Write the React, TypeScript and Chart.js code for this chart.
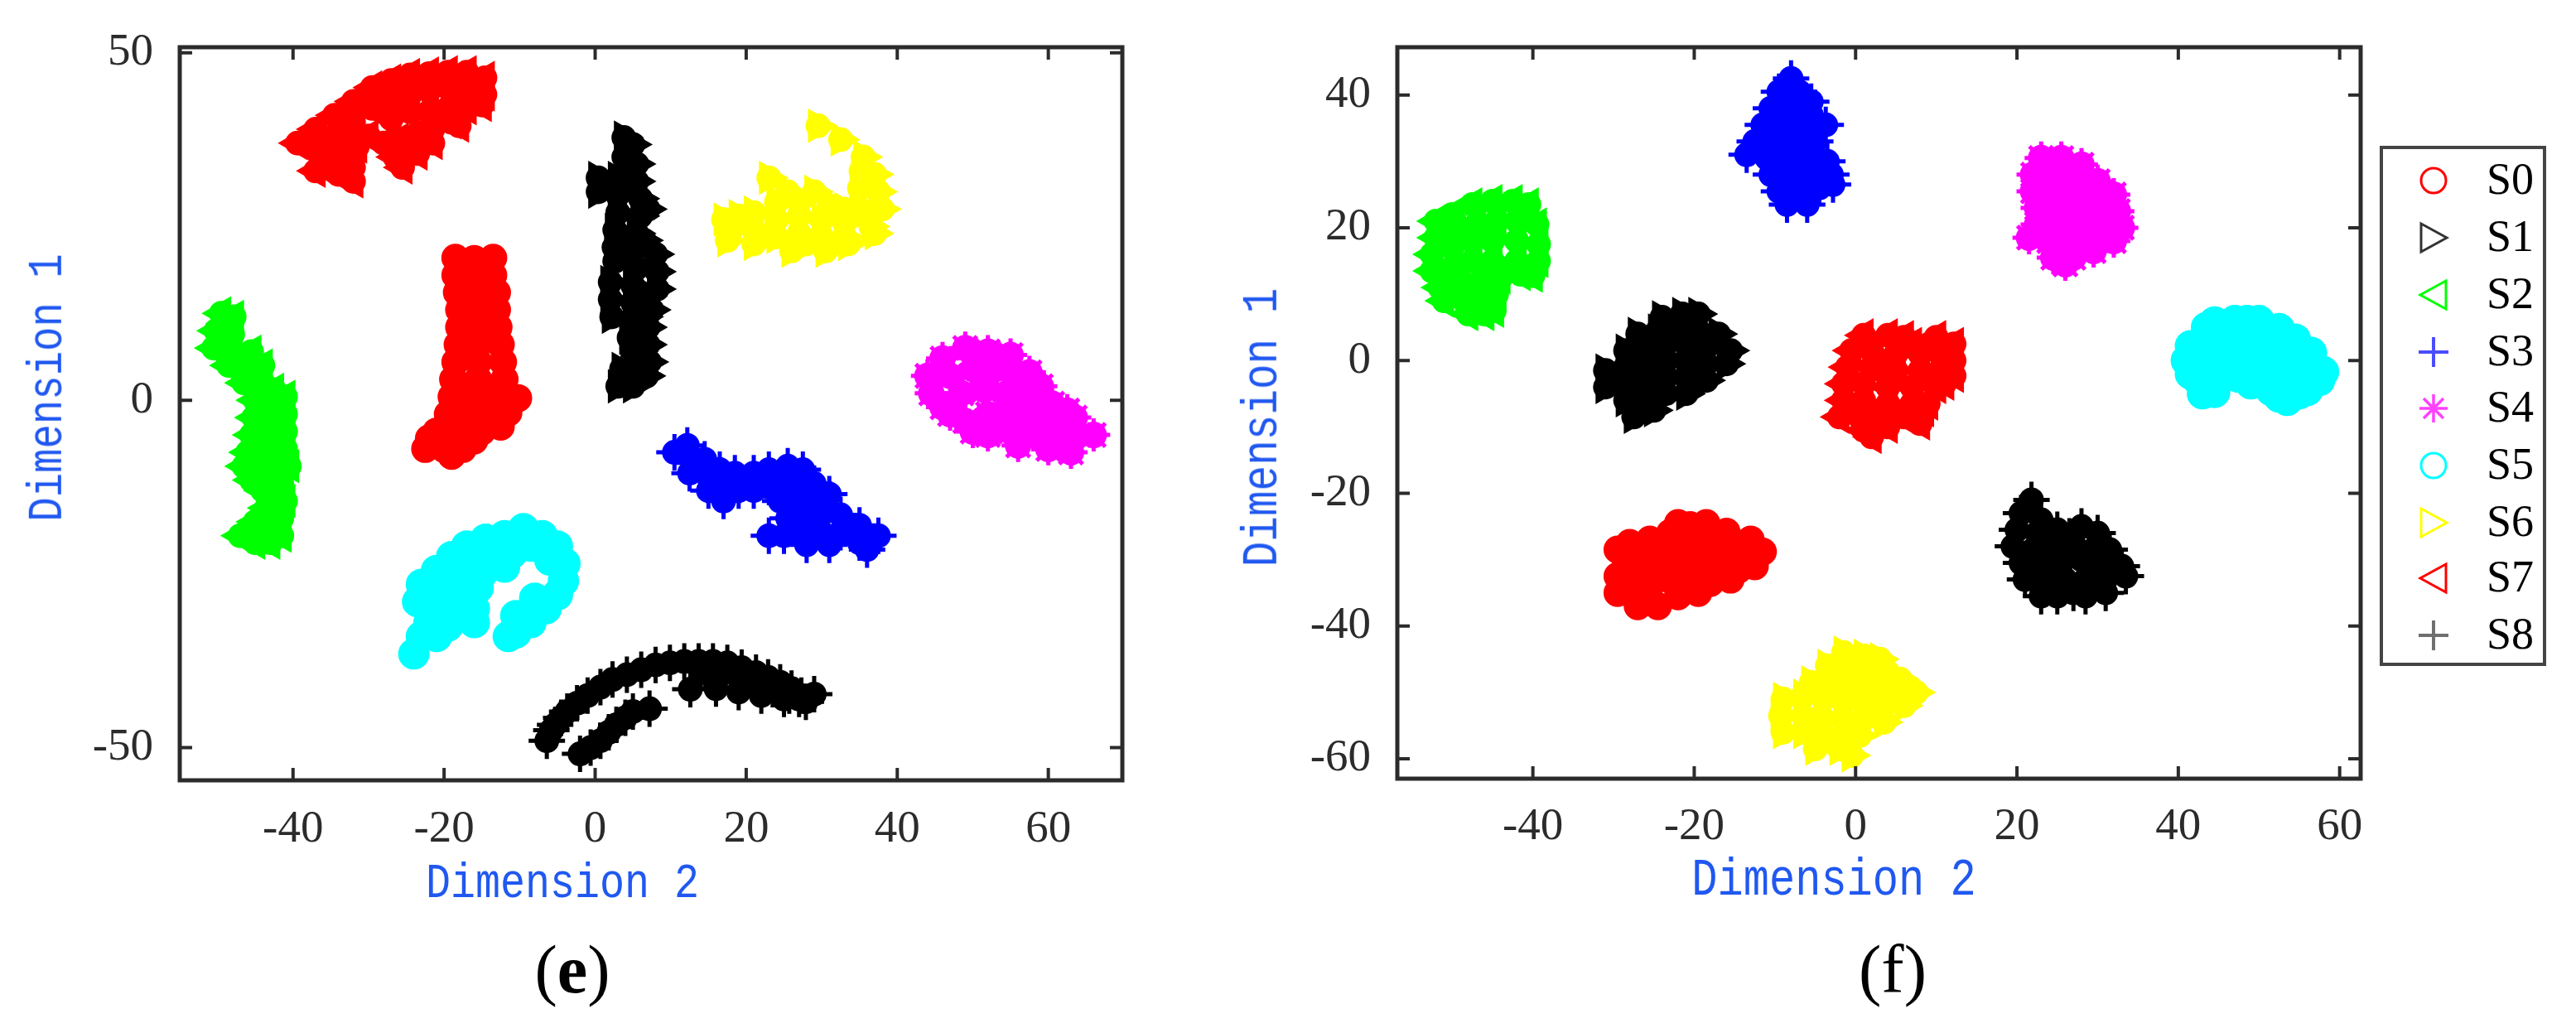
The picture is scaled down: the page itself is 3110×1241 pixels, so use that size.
import { useEffect, useRef } from "react";
import { Chart, registerables } from "chart.js";

Chart.register(...registerables);

type Pt = [number, number];

const seriesNames = ["S0", "S1", "S2", "S3", "S4", "S5", "S6", "S7", "S8"];
const seriesColors = ["#ff0000", "#000000", "#00ff00", "#0000ff", "#ff00ff", "#00ffff", "#ffff00", "#ff0000", "#000000"];

const leftXTicks = [-40, -20, 0, 20, 40, 60];
const leftYTicks = [-50, 0, 50];
const rightXTicks = [-40, -20, 0, 20, 40, 60];
const rightYTicks = [-60, -40, -20, 0, 20, 40];

// panel (e)
const leftS0: Pt[] = [[-18.5,20.5],[-16,20.3],[-13.5,20.5],[-18.5,18],[-16,18],[-13.5,18],[-18.3,15.5],[-15.8,15.5],[-13,15.5],[-18,13],[-15.5,13],[-13,13],[-18,10.5],[-15.5,10.5],[-12.8,10.5],[-18.2,8],[-15.5,8],[-12.5,8],[-18.5,5.5],[-15.5,5.5],[-12.2,5.5],[-18.8,3],[-15.5,3],[-12,3],[-19,0.5],[-16,0.5],[-13,0.5],[-10.2,0.3],[-19.5,-2],[-16.5,-2],[-13.5,-2],[-11.5,-1.8],[-21,-4.5],[-18,-4.5],[-15,-4.5],[-22.5,-7],[-20,-7],[-17.5,-7],[-12.5,-3.8],[-22,-5.5],[-19,-8],[-16,-5.8]];
const leftS1: Pt[] = [[3.8,37.8],[5,36.8],[3.8,35],[5.5,34],[0.4,32],[3,32],[5.5,31.5],[0.4,30],[3,29.5],[6,29],[3,27],[6,26.5],[2.6,24.5],[5.5,24],[2.5,22],[5,21.5],[8,21],[2.6,20],[5.5,19],[8.2,18.5],[2,17],[5,16.5],[8.2,16],[2,14.5],[5,14],[7.5,13],[2.2,12],[5,11.5],[7,10.5],[4.5,9],[7,8],[5,6.5],[7.2,5.5],[3.5,4.5],[5.5,3.5],[3,2],[5,2],[7,27.5],[6.5,23],[7,15],[6.5,12],[6.8,3.5]];
const leftS2: Pt[] = [[-49.5,12.5],[-47.8,12],[-50.2,10],[-48,9.5],[-50.5,7.5],[-48,7],[-45.5,7],[-48.5,5],[-46,4.5],[-46.5,2.5],[-44,2.5],[-41,0.5],[-45,0],[-43,-0.5],[-41,-2],[-45.2,-2.5],[-43,-3],[-41,-4.5],[-45.5,-5],[-43,-5.5],[-41,-7],[-46,-7.5],[-43.5,-8],[-40.5,-9.5],[-46.5,-9.5],[-44,-10.5],[-41.5,-12],[-44,-13],[-41,-14.5],[-43.5,-15.5],[-41.5,-17],[-45,-17.5],[-43,-18.5],[-47,-19.5],[-45,-20.5],[-43,-20.5],[-49,11],[-44,5],[-42.5,1.5],[-41.5,-9.5],[-44,-17],[-41.5,-19.5],[-45.5,-11.5]];
const leftS3: Pt[] = [[10.5,-7.5],[12.2,-6.5],[13,-9],[14.5,-8.5],[12.5,-10.5],[15,-11],[16.5,-10],[15,-13],[17,-12.5],[18.5,-10.5],[19,-13],[21,-10.5],[21,-13],[23,-10],[23,-12.5],[25.5,-9.5],[25,-12],[27.5,-10],[27.5,-12.5],[24.5,-14.5],[26.5,-15],[29,-12],[29,-15],[31,-13.5],[25.5,-17],[28,-17],[30.5,-16],[32.5,-16.5],[25,-19.5],[27.5,-19.5],[30,-19],[32.5,-19],[35,-18],[35,-20.5],[37.5,-19.5],[36,-21.5],[31,-20.8],[28,-20.8],[23,-19.5],[17,-14.5]];
const leftS4: Pt[] = [[44,3.5],[46,6],[49,7.5],[52,7],[55,6.5],[57.5,4],[44.5,1],[47,3.5],[50,4.5],[53,4.5],[56,3],[59,2],[46,-1],[48.5,1],[51.5,1.5],[54.5,1],[57.5,0.5],[60.5,-0.5],[49,-3],[52,-2],[55,-1.5],[58,-2],[61,-3],[63.5,-2.5],[52,-5],[55,-4.5],[58,-5],[61,-5.5],[64,-5],[66,-5],[60,-7],[63,-7.5],[47,-2],[50,-4.5],[56,-6.5],[57.5,-3.5],[62.5,-1.5]];
const leftS5: Pt[] = [[-9.5,-18.5],[-12,-19.5],[-14.5,-20],[-17,-21],[-7,-19.5],[-5,-21],[-4,-23.5],[-4.2,-26],[-6,-23],[-8.5,-21],[-11,-22],[-13.5,-22.5],[-16,-23.5],[-19,-22.5],[-21,-24.5],[-18,-25.5],[-15,-25],[-12,-24],[-23,-26.5],[-20.5,-27],[-17.5,-28],[-15.5,-27],[-23.5,-29],[-21,-29.5],[-18.5,-30.5],[-16,-30],[-22,-32],[-19.5,-32.5],[-16,-32],[-23,-34],[-21,-34],[-24,-36.5],[-5,-28],[-6.5,-30],[-8.5,-32],[-10.5,-33.5],[-11.5,-34],[-8,-28.5],[-10.5,-31]];
const leftS6: Pt[] = [[29.5,39.5],[32.5,37.5],[35.5,35],[37,32.5],[37.5,30],[38,27.5],[36.5,25],[35,27.5],[35,30.5],[35.2,33],[23,32],[25.5,30],[24,28.5],[27,26.5],[24,26],[21,24.5],[18,24.5],[17,26],[27,24],[30,26],[33,25.5],[30,23.5],[33,23.5],[24,23.5],[28,22.5],[31,28],[27,28.5],[19,26.5],[21,27],[29,30],[33,27.5],[21,22.5],[17.5,23],[33.5,22.5],[37,24],[30.5,21.5],[26,21.5]];
const leftS7: Pt[] = [[-39.4,37],[-37,39],[-34.5,41],[-32,43],[-29.5,45],[-27,46],[-24.5,46.8],[-22,47],[-19.5,47.2],[-17,47.2],[-14.6,46.4],[-37,36],[-34.5,38],[-32,40],[-29.5,42],[-27,43.5],[-24.5,44],[-22,44.5],[-19.5,45],[-17,44.5],[-14.6,44],[-36,33.5],[-33,35.5],[-30,38],[-27,40.5],[-24.5,41.5],[-22,41.5],[-19.5,42],[-17,42],[-37,33],[-34,32.5],[-32,33.5],[-26.5,35],[-24,38],[-21.5,39],[-19,40],[-28,37],[-25.5,33.5],[-23.5,35.5],[-21.5,37],[-26,37.5],[-31.5,36.5],[-33,38],[-35,35.5],[-32,31.5],[-15,42.5],[-18,39.5]];
const leftS8: Pt[] = [[-6.4,-49],[-5.8,-47.5],[-5.3,-46.7],[-4.5,-45.7],[-3.7,-44.8],[-2.4,-43.6],[-1,-42.5],[0.7,-41.3],[2.3,-40.2],[4.2,-39.5],[6.1,-38.8],[8,-38.1],[9.9,-37.8],[11.8,-37.6],[13.7,-37.6],[15.6,-37.6],[17.5,-37.8],[19.4,-38.5],[21.3,-39.2],[22.9,-39.9],[24.5,-40.6],[26,-41.5],[27.3,-42.5],[29,-42.3],[-2,-50.9],[-0.6,-50],[0.7,-49],[1.8,-47.8],[2.8,-46.7],[4,-45.7],[5,-44.8],[7.2,-44.4],[12.6,-41.6],[15.9,-40.6],[19.2,-40.2],[23.5,-41.6],[25.7,-42.5],[27.9,-43.4],[14,-39],[17,-39],[20,-40],[22,-41],[16,-41.5],[19,-42],[22,-42.5],[25,-43],[27,-43]];

// panel (f)
const rightS0: Pt[] = [[-28,-27.5],[-25.5,-27],[-23,-26],[-20.5,-24.8],[-18,-26.5],[-15.5,-27],[-13,-27],[-11.5,-28.8],[-28.5,-30],[-26,-29.5],[-23.5,-28.5],[-21,-28],[-18.5,-29],[-16,-29.5],[-13.5,-29.5],[-29.5,-32.5],[-27,-32],[-24.5,-31],[-22,-30.5],[-19.5,-31.5],[-17,-32],[-14.5,-31.5],[-28,-35],[-25.5,-34],[-23,-33],[-20.5,-33.5],[-18,-33.5],[-27,-37],[-24.5,-37],[-22,-35.5],[-18.5,-24.5],[-16,-25.8],[-29.5,-28.5],[-29.5,-35],[-15.5,-33],[-12.5,-31],[-19.5,-35],[-22,-24.5]];
const rightS1: Pt[] = [[-24,6.5],[-21.5,7],[-19.5,7],[-27,4],[-24.5,4.5],[-22,5],[-19.5,4.5],[-17,4],[-28.5,1.5],[-26,2],[-23.5,2.5],[-21,2.5],[-18.5,2],[-15.5,1.5],[-31,-1.5],[-28.5,-1],[-26,-0.5],[-23.5,0],[-21,0],[-18.5,-0.5],[-16,-0.5],[-31,-4],[-28.5,-3.5],[-26,-3],[-23.5,-2.5],[-21,-2.5],[-18.5,-3],[-28.5,-6],[-26,-5.5],[-23.5,-5],[-21,-5],[-27.5,-8.5],[-25,-7.5]];
const rightS2: Pt[] = [[-52,21],[-50,22],[-47.5,23.5],[-45,24],[-42.5,24],[-40.5,23.5],[-52,18.5],[-49.5,19.5],[-47,20.5],[-44.5,21],[-42,21],[-39.5,20.5],[-52.5,16],[-50,17],[-47.5,18],[-45,18],[-42,18],[-39.3,17.5],[-52.5,13.5],[-50,14],[-47.5,15],[-45,15],[-42,15],[-39.3,15],[-51.5,11],[-49,11.5],[-46.5,12],[-44,12.5],[-41.5,13],[-51,9],[-48.5,9],[-46,9.5],[-48,7],[-46,7],[-40,12.8],[-44.5,10],[-44.8,7.5]];
const rightS3: Pt[] = [[-8,42.5],[-9.5,40.5],[-7,40.5],[-5.5,39],[-10.5,38],[-8,38],[-5.5,37],[-11.5,35.5],[-9,35.5],[-6.5,35],[-3.7,35.5],[-12.5,33],[-10,33],[-7.5,33],[-5,33],[-13.5,31],[-11,30.5],[-8.5,30.5],[-6,30.5],[-3.5,30],[-10.5,28],[-8,28],[-5.5,28],[-3,28],[-9.5,25.5],[-7,25.5],[-4.5,26],[-2.8,26.5],[-8.5,23.5],[-6,23.5]];
const rightS4: Pt[] = [[23,30.5],[25.5,30.5],[28,29.5],[22,28],[24.5,28],[27,27.5],[30,27],[22,25.5],[24.5,25.5],[27,25],[29.5,25],[32,25],[22.5,23],[25,23],[27.5,22.5],[30,22.5],[32.5,22.5],[22.5,20.5],[25,20.5],[27.5,20],[30,20],[33,20],[21.5,18.5],[24,18],[26.5,17.5],[29,17.5],[32,18],[24.5,15.5],[27,15.5],[29.5,16.5],[26,14.5]];
const rightS5: Pt[] = [[41,0],[43.5,0],[46,0],[48.5,0],[51,0],[53.5,0],[56,-0.5],[58,-1.7],[43,2.5],[45.5,2.5],[48,2.5],[50.5,2.5],[53,1.5],[55.5,1.5],[43.5,5],[46,5],[48.5,6],[51,4.5],[53,3.5],[42.5,-3],[45,-3],[47.5,-2.5],[50,-2.5],[52.5,-3],[55,-3],[43,-5],[51.5,-4.5],[53.5,-6],[55,-5],[44.5,5.8],[47,6],[50,6],[52.5,4.8],[54.5,3.2],[56.5,1.2],[57.5,-3],[41.5,-2],[41.5,2.2],[44.5,-4.8],[49,-3.5],[52.5,-5.5],[56,-4.5]];
const rightS6: Pt[] = [[-1.5,-44],[1,-44.5],[3,-45],[-3.5,-46],[-1,-46.5],[1.5,-47],[4,-47],[5.5,-48],[-5.5,-48.5],[-3,-48.5],[-0.5,-49],[2,-49.5],[4.5,-49.5],[7.5,-50],[-9,-51],[-6.5,-50.5],[-4,-51],[-1.5,-51.5],[1,-51.5],[3.5,-52],[6,-52],[-9.3,-53.5],[-6.5,-53.5],[-4,-54],[-1.5,-54],[1,-54],[3.5,-54.5],[-9,-56],[-6.5,-56],[-4,-56.5],[-1.5,-56.5],[0.5,-56.5],[-5,-58.5],[-2,-58.5],[-0.5,-59.5]];
const rightS7: Pt[] = [[1,3.8],[4,3.8],[7,2.5],[10,3.5],[12.2,2.5],[-0.5,1.5],[2,1.5],[5,1],[8,1],[10.5,1],[12.2,0],[-1,-1],[2,-1],[5,-1.5],[8,-1.5],[10.5,-1.5],[12.2,-2.3],[-1.5,-3.5],[1,-3.5],[4,-4],[7,-4],[10,-4],[-1.5,-6],[1,-6],[4,-6.5],[7,-6.5],[-2,-8.5],[0.5,-8.5],[3,-8.5],[6,-8.5],[8,-9.5],[2,-11.5],[1,-10.5],[3,-1],[6,3.5],[9,-6.5],[8.5,-7.5],[4,-10],[11,-3.5]];
const rightS8: Pt[] = [[21.8,-21],[20.5,-23],[23,-24],[20,-25.5],[22.5,-26],[25,-25.5],[28,-25],[30,-26],[19.5,-28],[22,-28.5],[24.5,-28],[27,-27.5],[29.5,-28.5],[31.5,-28.5],[20.5,-30.5],[23,-30.5],[25.5,-30.5],[28,-30],[30.5,-30.5],[33,-31],[21,-33],[23.5,-33],[26,-33],[28.5,-33],[31,-33],[33.5,-32.5],[23,-35.5],[25,-35.5],[28.5,-35.5],[31,-35],[27,-35],[26.5,-26.5]];

const leftSeries = [leftS0, leftS1, leftS2, leftS3, leftS4, leftS5, leftS6, leftS7, leftS8];
const rightSeries = [rightS0, rightS1, rightS2, rightS3, rightS4, rightS5, rightS6, rightS7, rightS8];

// marker look for each series, same order as seriesNames
const markers = [
  { style: "circle", radius: 16, rotation: 0, under: 0 },
  { style: "triangle", radius: 22, rotation: 90, under: 15 },
  { style: "triangle", radius: 22, rotation: -90, under: 15 },
  { style: "cross", radius: 22, rotation: 0, under: 15 },
  { style: "star", radius: 20, rotation: 0, under: 16 },
  { style: "circle", radius: 18, rotation: 0, under: 0 },
  { style: "triangle", radius: 22, rotation: 90, under: 15 },
  { style: "triangle", radius: 22, rotation: -90, under: 15 },
  { style: "cross", radius: 22, rotation: 0, under: 15 },
];

const INK = "#2b2b2b";
const BLUE = "#2058f0";

function buildDatasets(series: Pt[][]) {
  const sets: any[] = [];
  series.forEach((pts, i) => {
    const m = markers[i];
    const data = pts.map(([x, y]) => ({ x, y }));
    const color = seriesColors[i];
    // a solid dot under each marker closes the gaps so the cloud reads as dense
    if (m.under > 0) {
      sets.push({
        label: seriesNames[i] + " fill",
        data,
        pointStyle: "circle",
        pointRadius: m.under,
        backgroundColor: color,
        borderColor: color,
        borderWidth: 0,
      });
    }
    sets.push({
      label: seriesNames[i],
      data,
      pointStyle: m.style,
      pointRadius: m.radius,
      pointRotation: m.rotation,
      backgroundColor: color,
      borderColor: color,
      borderWidth: m.style === "cross" || m.style === "star" ? 5 : 2,
    });
  });
  return sets;
}

// box frame with inward ticks on all four sides
const boxFrame = {
  id: "boxFrame",
  afterDatasetsDraw(chart: any) {
    const { ctx, chartArea: a, scales } = chart;
    const len = 15;
    ctx.save();
    ctx.strokeStyle = INK;
    ctx.lineWidth = 5;
    ctx.strokeRect(a.left, a.top, a.right - a.left, a.bottom - a.top);
    ctx.lineWidth = 4;
    ctx.beginPath();
    scales.x.ticks.forEach((t: any) => {
      const px = scales.x.getPixelForValue(t.value);
      ctx.moveTo(px, a.top);
      ctx.lineTo(px, a.top + len);
      ctx.moveTo(px, a.bottom);
      ctx.lineTo(px, a.bottom - len);
    });
    scales.y.ticks.forEach((t: any) => {
      const py = scales.y.getPixelForValue(t.value);
      ctx.moveTo(a.left, py);
      ctx.lineTo(a.left + len, py);
      ctx.moveTo(a.right, py);
      ctx.lineTo(a.right - len, py);
    });
    ctx.stroke();
    ctx.restore();
  },
};

interface PanelProps {
  series: Pt[][];
  xTicks: number[];
  yTicks: number[];
  xRange: number[];
  yRange: number[];
  left: number;
  plotLeft: number;
  plotRight: number;
  plotBottom: number;
  xPad: number;
}

function Panel({ series, xTicks, yTicks, xRange, yRange, left, plotLeft, plotRight, plotBottom, xPad }: PanelProps) {
  const ref = useRef<HTMLCanvasElement>(null);

  useEffect(() => {
    if (!ref.current) return;
    const tickFont = { family: "'Liberation Serif', serif", size: 55 };
    const chart = new Chart(ref.current, {
      type: "scatter",
      data: { datasets: buildDatasets(series) },
      plugins: [boxFrame],
      options: {
        animation: false,
        responsive: false,
        devicePixelRatio: 1,
        layout: { padding: { top: 50, right: 1555 - plotRight, bottom: 0, left: 0 } },
        plugins: { legend: { display: false }, tooltip: { enabled: false } },
        scales: {
          x: {
            type: "linear",
            min: xRange[0],
            max: xRange[1],
            grid: { display: false },
            border: { display: false },
            afterFit: (s: any) => { s.height = 1241 - plotBottom; },
            afterBuildTicks: (s: any) => { s.ticks = xTicks.map((value) => ({ value })); },
            ticks: { color: INK, font: tickFont, padding: xPad, maxRotation: 0, autoSkip: false, callback: (v: any) => String(v) },
          },
          y: {
            type: "linear",
            min: yRange[0],
            max: yRange[1],
            grid: { display: false },
            border: { display: false },
            afterFit: (s: any) => { s.width = plotLeft; },
            afterBuildTicks: (s: any) => { s.ticks = yTicks.map((value) => ({ value })); },
            ticks: { color: INK, font: tickFont, padding: 24, autoSkip: false, callback: (v: any) => String(v) },
          },
        },
      } as any,
    });
    return () => chart.destroy();
  }, []);

  return <canvas ref={ref} width={1555} height={1241} style={{ position: "absolute", left, top: 0, width: 1555, height: 1241 }} />;
}

function Label({ children, cx, cy, size, rotate, stretch, color, font }: any) {
  return (
    <span
      style={{
        position: "absolute",
        left: cx,
        top: cy,
        transform: `translate(-50%, -50%)${rotate ? " rotate(-90deg)" : ""}${stretch ? ` scaleY(${stretch})` : ""}`,
        whiteSpace: "pre",
        fontFamily: font,
        fontSize: size,
        color,
        lineHeight: 1,
      }}
    >
      {children}
    </span>
  );
}

const legendRowY = [216, 285, 354, 423, 491, 560, 629, 696, 765];

function LegendMarker({ index, y }: { index: number; y: number }) {
  const m = markers[index];
  const c = seriesColors[index] === "#000000" ? "#333333" : seriesColors[index];
  let shape;
  if (m.style === "circle") {
    shape = <circle cx={20} cy={20} r={15} fill="none" stroke={c} strokeWidth={3} />;
  } else if (m.style === "triangle") {
    const pts = m.rotation > 0 ? "5,3 36,20 5,37" : "35,3 4,20 35,37";
    shape = <polygon points={pts} fill="none" stroke={c} strokeWidth={3} />;
  } else if (m.style === "cross") {
    shape = <path d="M20 2V38M2 20H38" stroke={c} strokeWidth={4} opacity={0.7} />;
  } else {
    shape = <path d="M20 3V37M3 20H37M8 8L32 32M32 8L8 32" stroke={c} strokeWidth={3.5} opacity={0.75} />;
  }
  return (
    <svg width={40} height={40} style={{ position: "absolute", left: 2938 - 20, top: y + 2 - 20 }}>
      {shape}
    </svg>
  );
}

export default function App() {
  const serif = "'Liberation Serif', serif";
  const mono = "'Liberation Mono', monospace";
  return (
    <div style={{ position: "absolute", left: 0, top: 0, width: 3110, height: 1241, background: "#fff", overflow: "hidden" }}>
      <Panel series={leftSeries} xTicks={leftXTicks} yTicks={leftYTicks} xRange={[-55, 69.8]} yRange={[-54.7, 50.8]} left={0} plotLeft={217} plotRight={1355} plotBottom={942} xPad={19} />
      <Panel series={rightSeries} xTicks={rightXTicks} yTicks={rightYTicks} xRange={[-56.8, 62.6]} yRange={[-63, 47.2]} left={1555} plotLeft={132} plotRight={1295} plotBottom={940} xPad={18} />

      <Label cx={679} cy={1067} size={50} stretch={1.2} color={BLUE} font={mono}>Dimension 2</Label>
      <Label cx={59} cy={468} size={49} stretch={1.2} color={BLUE} font={mono} rotate>Dimension 1</Label>
      <Label cx={2214} cy={1064} size={52} stretch={1.2} color={BLUE} font={mono}>Dimension 2</Label>
      <Label cx={1525} cy={516} size={51} stretch={1.2} color={BLUE} font={mono} rotate>Dimension 1</Label>
      <Label cx={691} cy={1171} size={82} color="#000" font={serif}>(<b>e</b>)</Label>
      <Label cx={2285} cy={1171} size={82} color="#000" font={serif}>(f)</Label>

      <div style={{ position: "absolute", left: 2873, top: 176, width: 201, height: 628, boxSizing: "border-box", border: "4px solid #444" }} />
      {seriesNames.map((name, i) => (
        <div key={name}>
          <LegendMarker index={i} y={legendRowY[i]} />
          <span style={{ position: "absolute", left: 3002, top: legendRowY[i] - 27, fontFamily: serif, fontSize: 54, lineHeight: "54px", color: "#000" }}>{name}</span>
        </div>
      ))}
    </div>
  );
}
